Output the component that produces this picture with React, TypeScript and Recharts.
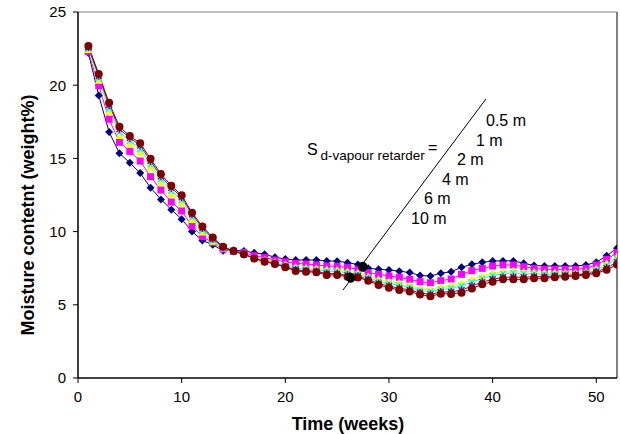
import React from "react";
import { LineChart, Line, XAxis, YAxis, ReferenceLine, ReferenceDot, Customized } from "recharts";

const weeks = [1,2,3,4,5,6,7,8,9,10,11,12,13,14,15,16,17,18,19,20,21,22,23,24,25,26,27,28,29,30,31,32,33,34,35,36,37,38,39,40,41,42,43,44,45,46,47,48,49,50,51,52];

const sd05 = [22.2,19.3,16.8,15.35,14.7,14.0,13.0,12.2,11.5,10.85,10.0,9.4,9.1,8.7,8.72,8.68,8.55,8.45,8.25,8.12,8.06,8.06,8.06,8.0,7.98,7.88,7.75,7.5,7.42,7.38,7.3,7.2,7.0,6.97,7.15,7.26,7.56,7.77,7.9,7.99,8.0,8.0,7.83,7.69,7.65,7.65,7.65,7.65,7.72,7.9,8.35,8.86];
const sd1 = [22.3,19.97,17.67,16.1,15.48,14.82,13.75,12.84,12.02,11.41,10.38,9.65,9.25,8.8,8.67,8.58,8.35,8.22,8.06,7.94,7.83,7.79,7.72,7.65,7.63,7.54,7.42,7.2,7.08,6.97,6.88,6.74,6.58,6.51,6.65,6.76,7.08,7.33,7.49,7.65,7.72,7.72,7.6,7.49,7.42,7.42,7.42,7.42,7.49,7.72,8.1,8.56];
const sd2 = [22.4,20.3,18.19,16.55,15.96,15.4,14.37,13.34,12.55,11.93,10.79,9.93,9.3,8.85,8.65,8.5,8.25,8.08,7.92,7.76,7.6,7.55,7.5,7.42,7.4,7.3,7.2,6.95,6.74,6.6,6.5,6.35,6.12,6.05,6.24,6.31,6.47,6.74,6.97,7.15,7.26,7.33,7.26,7.26,7.2,7.2,7.2,7.2,7.26,7.49,7.83,8.3];
const sd4 = [22.5,20.5,18.4,16.8,16.2,15.65,14.6,13.6,12.8,12.15,11.0,10.1,9.4,8.9,8.65,8.47,8.2,8.02,7.85,7.68,7.5,7.45,7.4,7.3,7.28,7.18,7.08,6.85,6.6,6.45,6.33,6.2,5.98,5.9,6.05,6.12,6.3,6.55,6.8,7.0,7.12,7.18,7.12,7.12,7.08,7.08,7.1,7.1,7.15,7.38,7.7,8.15];
const sd6 = [22.6,20.65,18.65,17.0,16.4,15.88,14.82,13.78,13.0,12.35,11.18,10.25,9.52,8.93,8.66,8.46,8.18,7.97,7.81,7.6,7.38,7.33,7.28,7.14,7.13,7.02,6.95,6.73,6.45,6.28,6.13,6.02,5.82,5.71,5.88,5.88,6.0,6.28,6.55,6.74,6.88,6.9,6.88,6.93,6.92,6.97,7.0,7.04,7.1,7.25,7.52,7.92];
const sd10 = [22.68,20.77,18.8,17.17,16.53,16.03,14.98,13.93,13.14,12.48,11.29,10.35,9.6,8.97,8.67,8.45,8.17,7.94,7.79,7.56,7.31,7.26,7.22,7.04,7.04,6.92,6.87,6.65,6.35,6.17,6.01,5.9,5.7,5.58,5.76,5.74,5.83,6.12,6.4,6.58,6.74,6.74,6.74,6.81,6.81,6.88,6.92,6.97,7.04,7.15,7.4,7.75];

const xTicks = [0, 10, 20, 30, 40, 50];
const yTicks = [0, 5, 10, 15, 20, 25];
const seriesLabels = ["0.5 m", "1 m", "2 m", "4 m", "6 m", "10 m"];
const pointerLine = [{ x: 25.57, y: 6.01 }, { x: 39.36, y: 19.06 }];
const pointerDots = [{ x: 27.47, y: 7.6 }, { x: 26.31, y: 6.85 }];

const data = weeks.map((w, i) => ({
  week: w,
  a: sd05[i],
  b: sd1[i],
  c: sd2[i],
  d: sd4[i],
  e: sd6[i],
  f: sd10[i],
}));

const FONT = "'Liberation Sans', Arial, sans-serif";

const Diamond = (p: any) => {
  const { cx, cy, index } = p;
  if (cx == null || cy == null) return <g key={index} />;
  return <polygon key={index} points={`${cx},${cy - 4} ${cx + 4},${cy} ${cx},${cy + 4} ${cx - 4},${cy}`} fill="#000080" />;
};
const Square = (p: any) => {
  const { cx, cy, index } = p;
  if (cx == null || cy == null) return <g key={index} />;
  return <rect key={index} x={cx - 3.5} y={cy - 3.5} width={7} height={7} fill="#FF00FF" />;
};
const Triangle = (p: any) => {
  const { cx, cy, index } = p;
  if (cx == null || cy == null) return <g key={index} />;
  return <polygon key={index} points={`${cx},${cy - 4} ${cx + 4},${cy + 3} ${cx - 4},${cy + 3}`} fill="#FFFF00" />;
};
const Cross = (p: any) => {
  const { cx, cy, index } = p;
  if (cx == null || cy == null) return <g key={index} />;
  return (
    <g key={index} stroke="#00FFFF" strokeWidth={1.5}>
      <line x1={cx - 3} y1={cy - 3} x2={cx + 3} y2={cy + 3} />
      <line x1={cx - 3} y1={cy + 3} x2={cx + 3} y2={cy - 3} />
    </g>
  );
};
const Star = (p: any) => {
  const { cx, cy, index } = p;
  if (cx == null || cy == null) return <g key={index} />;
  return (
    <g key={index} stroke="#800080" strokeWidth={1.3}>
      <line x1={cx - 3} y1={cy - 3} x2={cx + 3} y2={cy + 3} />
      <line x1={cx - 3} y1={cy + 3} x2={cx + 3} y2={cy - 3} />
      <line x1={cx} y1={cy - 4} x2={cx} y2={cy + 4} />
    </g>
  );
};
const Circle = (p: any) => {
  const { cx, cy, index } = p;
  if (cx == null || cy == null) return <g key={index} />;
  return <circle key={index} cx={cx} cy={cy} r={4} fill="#800000" />;
};

const labelX = [486, 476, 457, 442, 424, 411];
const labelY = [126, 145.5, 165, 184.5, 204, 223.5];

const Texts = () => (
  <g fontFamily={FONT} fill="#000">
    <text x={28} y={215} transform="rotate(-90 28 215)" textAnchor="middle" dominantBaseline="central" fontWeight="bold" fontSize={18}>
      Moisture contetnt (weight%)
    </text>
    <text x={348} y={424} textAnchor="middle" dominantBaseline="central" fontWeight="bold" fontSize={18}>
      Time (weeks)
    </text>
    <text x={307} y={155} fontSize={16}>S</text>
    <text x={320.5} y={159.5} fontSize={13.5}>d-vapour retarder</text>
    <text x={428} y={153} fontSize={16}>=</text>
    {seriesLabels.map((s, i) => (
      <text key={s} x={labelX[i]} y={labelY[i]} fontSize={16}>{s}</text>
    ))}
  </g>
);

export default function App() {
  return (
    <div style={{ position: "absolute", left: 0, top: 0, width: 620, height: 434, background: "#fff" }}>
      <LineChart width={620} height={434} data={data} margin={{ top: 12, right: 3, left: 0, bottom: 0 }}>
        <XAxis
          dataKey="week"
          type="number"
          domain={[0, 52]}
          ticks={xTicks}
          allowDataOverflow
          height={56}
          tickSize={5}
          tickMargin={8}
          axisLine={{ stroke: "#000", strokeWidth: 1.5 }}
          tickLine={{ stroke: "#000" }}
          tick={{ fill: "#000", fontSize: 15, fontFamily: FONT }}
        />
        <YAxis
          type="number"
          domain={[0, 25]}
          ticks={yTicks}
          width={78}
          tickSize={5}
          tickMargin={7}
          axisLine={{ stroke: "#000", strokeWidth: 1.5 }}
          tickLine={{ stroke: "#000" }}
          tick={{ fill: "#000", fontSize: 15, fontFamily: FONT }}
        />
        <ReferenceLine y={25} stroke="#808080" strokeWidth={1} />
        <ReferenceLine x={52} stroke="#808080" strokeWidth={2} />
        <Line dataKey="a" stroke="#000080" strokeWidth={1} dot={Diamond} isAnimationActive={false} />
        <Line dataKey="b" stroke="#FF00FF" strokeWidth={1} dot={Square} isAnimationActive={false} />
        <Line dataKey="c" stroke="#FFFF00" strokeWidth={1} dot={Triangle} isAnimationActive={false} />
        <Line dataKey="d" stroke="#00FFFF" strokeWidth={1} dot={Cross} isAnimationActive={false} />
        <Line dataKey="e" stroke="#800080" strokeWidth={1} dot={Star} isAnimationActive={false} />
        <Line dataKey="f" stroke="#800000" strokeWidth={1} dot={Circle} isAnimationActive={false} />
        <ReferenceLine segment={pointerLine} stroke="#000" strokeWidth={1} ifOverflow="visible" />
        {pointerDots.map((d, i) => (
          <ReferenceDot key={i} x={d.x} y={d.y} r={4.5} fill="#000" stroke="#000" ifOverflow="visible" />
        ))}
        <Customized component={Texts} />
      </LineChart>
    </div>
  );
}
